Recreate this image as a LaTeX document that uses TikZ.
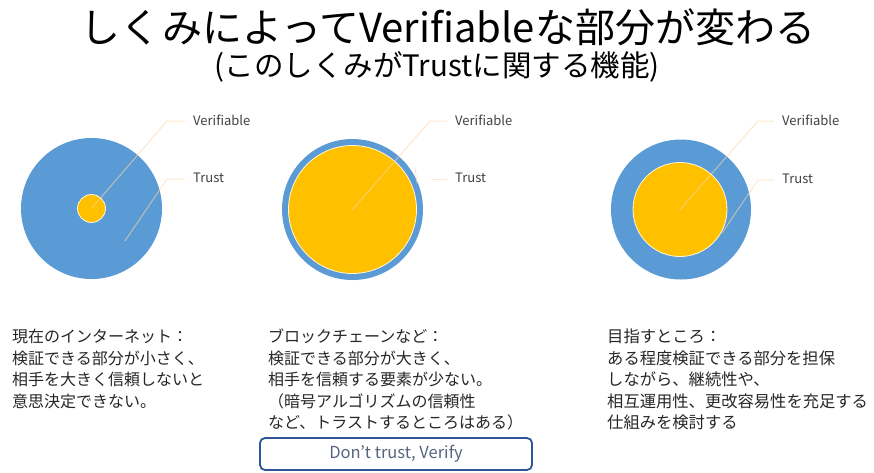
\documentclass[tikz,border=0pt]{standalone}
\usepackage{fontspec}
\setmainfont{Noto Sans CJK JP}
\newfontfamily\lblfont{Noto Sans CJK JP}
\definecolor{cblue}{HTML}{5B9BD5}
\definecolor{cyellow}{HTML}{FFC000}
\definecolor{leader}{RGB}{255,214,170}
\definecolor{lbltext}{HTML}{404040}
\definecolor{bodytext}{HTML}{262626}
\definecolor{boxblue}{HTML}{2F5597}
\definecolor{boxtext}{HTML}{56657F}
\tikzset{
  outer/.style={circle, fill=cblue, inner sep=0, minimum size=#1},
  innerc/.style={circle, fill=cyellow, draw=white!85!cyellow, line width=0.8pt, inner sep=0, minimum size=#1},
  leadline/.style={draw=leader, draw opacity=0.6, line width=1pt},
  lbl/.style={anchor=west, inner sep=0, text=lbltext, font=\lblfont\fontsize{13}{15}\selectfont},
  body/.style={anchor=north west, inner sep=0, align=left, text=bodytext, font=\fontsize{16}{21.5}\selectfont},
}
\begin{document}
\begin{tikzpicture}[x=1pt,y=-1pt]
\useasboundingbox (0,0) rectangle (874,472);
% titles
\node[inner sep=0, font=\fontsize{40}{44}\selectfont, text=black] (title) at (448,27) {しくみによってVerifiableな部分が変わる};
\node[inner sep=0, font=\fontsize{29.5}{32}\selectfont, text=black] (sub) at (437,67) {(このしくみがTrustに関する機能)};

% left circle
\node[outer=141pt] (c1) at (91.5,208.5) {};
\node[innerc=28pt] (v1) at (91.5,208.5) {};
\node[lbl] (l1v) at (193,120) {Verifiable};
\node[lbl] (l1t) at (193,178) {Trust};
\coordinate (b1v) at (167,121);
\coordinate (e1v) at (185,121);
\coordinate (s1t) at (125,241);
\coordinate (b1t) at (167,179);
\coordinate (e1t) at (185,179);
\draw[leadline] (v1.center) -- (b1v) -- (e1v);
\draw[leadline] (s1t) -- (b1t) -- (e1t);

% middle circle
\node[outer=141pt] (c2) at (352.5,209.5) {};
\node[innerc=128pt] (v2) at (352.5,209.5) {};
\node[lbl] (l2v) at (455,120) {Verifiable};
\node[lbl] (l2t) at (455,178) {Trust};
\coordinate (b2v) at (430,121);
\coordinate (e2v) at (447,121);
\coordinate (s2a) at (415,168);
\coordinate (s2b) at (417,183);
\coordinate (b2t) at (431,179);
\coordinate (e2t) at (447,179);
\draw[leadline] (v2.center) -- (b2v) -- (e2v);
\draw[leadline] (s2a) -- (s2b);
\draw[leadline] (b2t) -- (e2t);

% right circle
\node[outer=140pt] (c3) at (681,209.5) {};
\node[innerc=94pt] (v3) at (680,209.5) {};
\node[lbl] (l3v) at (782,120) {Verifiable};
\node[lbl] (l3t) at (782,179) {Trust};
\coordinate (b3v) at (758,121);
\coordinate (e3v) at (774,121);
\coordinate (s3t) at (722,233);
\coordinate (b3t) at (758,180);
\coordinate (e3t) at (774,180);
\draw[leadline] (v3.center) -- (b3v) -- (e3v);
\draw[leadline] (s3t) -- (b3t) -- (e3t);

% body texts
\node[body] (t1) at (12,329) {現在のインターネット：\\検証できる部分が小さく、\\相手を大きく信頼しないと\\意思決定できない。};
\node[body] (t2) at (268,329) {ブロックチェーンなど：\\検証できる部分が大きく、\\相手を信頼する要素が少ない。\\（暗号アルゴリズムの信頼性\\など、トラストするところはある）};
\node[body, font=\fontsize{16.3}{21.5}\selectfont] (t3) at (607,329) {目指すところ：\\ある程度検証できる部分を担保\\しながら、継続性や、\\相互運用性、更改容易性を充足する\\仕組みを検討する};

% box
\node[draw=boxblue, line width=1.8pt, rounded corners=5pt, minimum width=272pt, minimum height=32pt, inner sep=0, text=boxtext, font=\fontsize{16.5}{18}\selectfont] (dtv) at (396,454) {Don't trust, Verify};
\end{tikzpicture}
\end{document}
